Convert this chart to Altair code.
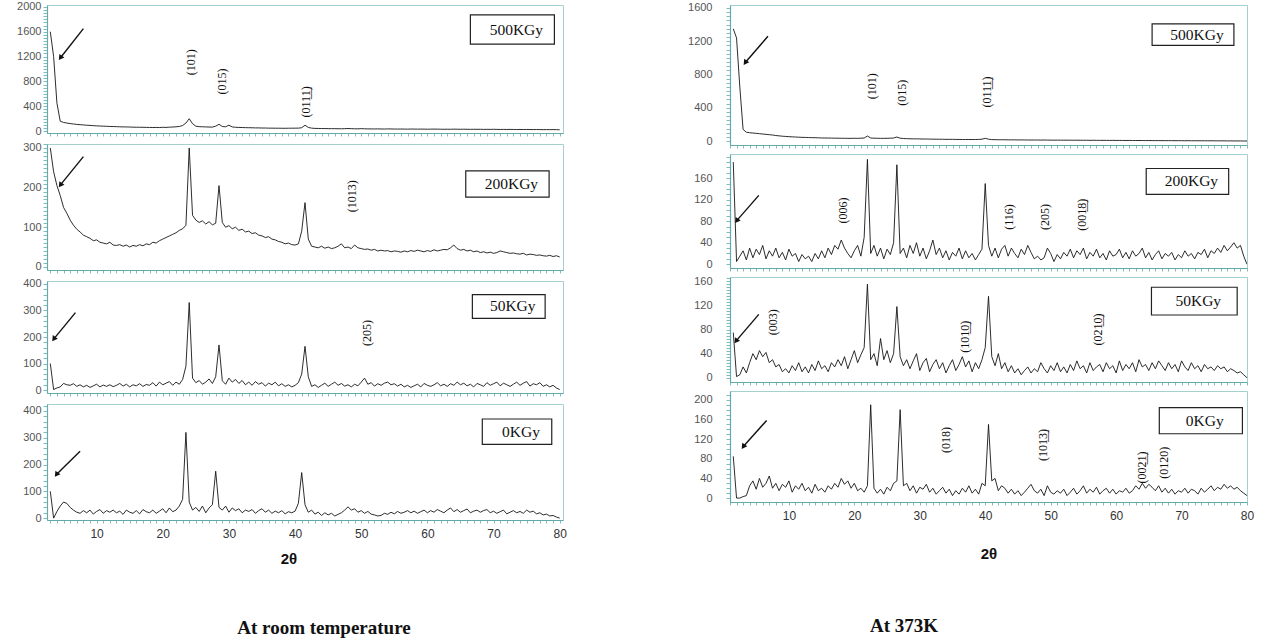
import math
import altair as alt
import pandas as pd

U = "\u0332"  # combining underline used for two-digit Miller indices
TEAL = "#63abab"

# ---------------- sampling grids (2-theta, degrees) ----------------
left_x = [3.0 + 0.5 * i for i in range(155)]
right_x = [1.5 + 0.5 * i for i in range(158)]

# ---------------- intensities ----------------
left_500 = [
    1600, 1200, 450, 160, 140, 130, 122, 115, 108, 104,
    100, 95, 92, 88, 85, 82, 80, 78, 75, 74,
    72, 70, 68, 68, 66, 64, 63, 62, 62, 60,
    60, 58, 60, 58, 62, 60, 64, 66, 70, 75,
    90, 130, 200, 120, 80, 72, 70, 68, 66, 65,
    80, 110, 75, 70, 95, 68, 62, 60, 58, 56,
    55, 54, 52, 52, 50, 50, 48, 48, 47, 47,
    46, 46, 47, 47, 48, 48, 55, 95, 60, 48,
    44, 43, 42, 42, 40, 40, 40, 39, 38, 40,
    42, 40, 38, 37, 40, 38, 36, 36, 35, 36,
    35, 34, 36, 35, 34, 33, 34, 33, 32, 34,
    33, 32, 33, 32, 31, 32, 33, 32, 31, 30,
    31, 30, 32, 31, 30, 31, 30, 29, 30, 29,
    30, 28, 29, 28, 30, 28, 27, 28, 27, 28,
    27, 26, 27, 26, 27, 26, 25, 26, 25, 24,
    25, 24, 25, 24, 22,
]
left_200 = [
    300, 240, 205, 180, 150, 135, 118, 105, 95, 88,
    80, 76, 72, 66, 68, 62, 60, 58, 62, 55,
    54, 56, 52, 55, 50, 54, 52, 56, 53, 58,
    56, 62, 60, 66, 70, 74, 78, 82, 86, 92,
    96, 105, 300, 130, 118, 112, 116, 108, 114, 106,
    110, 205, 112, 100, 104, 96, 100, 92, 95, 88,
    90, 84, 86, 80, 78, 74, 76, 70, 68, 64,
    62, 58, 60, 56, 55, 58, 90, 162, 70, 52,
    50, 48, 52, 47, 50, 46, 48, 52, 58, 48,
    50, 46, 55, 48, 46, 44, 45, 42, 44, 40,
    42, 40, 41, 38, 40, 39, 37, 40, 38, 41,
    39, 42, 40, 38, 41, 39, 43, 40, 42, 44,
    43, 48, 55, 46, 42, 44, 40, 42, 38, 40,
    36, 38, 35, 37, 34, 36, 40, 38, 36, 34,
    35, 33, 32, 34, 30, 32, 31, 29, 30, 28,
    27, 29, 26, 28, 25,
]
left_50 = [
    100, 2, 8, 12, 25, 20, 18, 24, 14, 20,
    12, 18, 10, 16, 22, 12, 19, 14, 20, 13,
    18, 25, 15, 22, 12, 20, 16, 24, 14, 21,
    18, 28, 15, 30, 20, 26, 32, 18, 30, 22,
    40, 90, 330, 45, 28, 36, 22, 30, 42, 25,
    50, 170, 35, 22, 45, 30, 40, 25, 36, 20,
    30, 18, 32, 22, 28, 15, 26, 20, 30, 16,
    24, 14, 20, 12, 18, 28, 60, 165, 50, 14,
    20, 10, 18, 26, 14, 22, 30, 18, 25, 15,
    20, 12, 22, 16, 30, 45, 22, 28, 15, 24,
    18, 26, 30, 20, 24, 15, 22, 12, 18, 10,
    16, 22, 12, 25, 18, 14, 20, 28, 16, 22,
    14, 24, 18, 30, 20, 26, 16, 22, 12, 25,
    20, 14, 28, 18, 24, 30, 16, 26, 20, 14,
    22, 30, 18, 26, 32, 15, 24, 20, 28, 14,
    20, 12, 18, 8, 2,
]
left_0 = [
    100, 0, 25, 45, 60, 55, 40, 30, 22, 18,
    28, 20, 30, 15, 25, 32, 18, 28, 22, 30,
    20, 26, 14, 30, 22, 18, 28, 16, 32, 24,
    20, 30, 18, 26, 35, 20, 38, 24, 30, 45,
    70, 320, 60, 30, 40, 25, 45, 20, 38, 50,
    175, 40, 30, 45, 22, 38, 28, 35, 20, 30,
    25, 32, 18, 28, 35, 22, 30, 18, 26, 20,
    28, 16, 24, 20, 26, 55, 170, 50, 22, 30,
    15, 22, 10, 20, 12, 18, 8, 14, 20, 30,
    42, 30, 35, 22, 28, 18, 25, 15, 12, 8,
    10, 18, 14, 22, 16, 25, 18, 22, 28, 20,
    26, 18, 24, 30, 20, 28, 22, 32, 26, 20,
    30, 38, 24, 32, 22, 28, 34, 20, 26, 30,
    22, 28, 32, 20, 26, 18, 24, 30, 16, 22,
    28, 20, 25, 18, 30, 22, 26, 16, 20, 12,
    15, 8, 10, 4, 0,
]
right_500 = [
    1350, 1240, 650,
    140, 105, 100, 96, 92, 88, 84, 80, 76, 72,
    66, 62, 58, 55, 52, 50, 48, 46, 44, 43,
    42, 40, 40, 38, 37, 36, 36, 35, 34, 34,
    33, 33, 32, 32, 33, 32, 34, 36, 60, 36,
    34, 33, 32, 32, 33, 34, 36, 48, 34, 30,
    28, 27, 26, 26, 25, 24, 24, 23, 22, 22,
    21, 21, 20, 20, 20, 19, 19, 18, 18, 18,
    18, 18, 19, 22, 32, 22, 17, 16, 15, 15,
    15, 14, 14, 14, 13, 13, 13, 12, 12, 12,
    12, 11, 12, 11, 11, 10, 11, 10, 10, 10,
    10, 9, 10, 9, 9, 9, 8, 9, 8, 8,
    8, 8, 7, 8, 7, 7, 7, 6, 7, 6,
    6, 6, 6, 5, 6, 5, 5, 5, 5, 4,
    5, 4, 4, 4, 4, 3, 4, 3, 3, 3,
    3, 3, 2, 3, 2, 2, 2, 2, 1, 2,
    1, 1, 1, 0, 0,
]
right_200 = [
    190, 5, 15,
    25, 8, 30, 12, 28, 18, 35, 10, 25, 15,
    30, 12, 22, 8, 28, 15, 20, 5, 18, 10,
    15, 5, 20, 10, 25, 12, 30, 18, 35, 28,
    45, 30, 20, 12, 25, 35, 15, 50, 195, 20,
    35, 15, 30, 10, 28, 18, 40, 185, 20, 30,
    12, 35, 20, 40, 15, 30, 10, 25, 45, 18,
    30, 12, 25, 8, 22, 15, 30, 10, 25, 12,
    20, 8, 18, 28, 150, 35, 15, 30, 12, 28,
    35, 15, 30, 20, 12, 28, 18, 35, 22, 10,
    15, 8, 12, 30, 20, 5, 18, 10, 22, 15,
    28, 12, 25, 18, 30, 10, 22, 15, 28, 12,
    20, 8, 25, 15, 18, 28, 12, 22, 10, 25,
    15, 20, 30, 12, 22, 8, 18, 25, 10, 20,
    15, 22, 8, 18, 12, 25, 15, 20, 10, 22,
    18, 28, 12, 25, 20, 30, 22, 35, 25, 32,
    40, 30, 35, 15, 0,
]
right_50 = [
    75, 2, 5,
    18, 8, 25, 40, 30, 45, 35, 42, 25, 30,
    18, 22, 10, 15, 8, 20, 12, 25, 10, 18,
    8, 22, 12, 28, 15, 20, 10, 25, 18, 30,
    20, 35, 15, 30, 45, 25, 38, 50, 155, 30,
    40, 20, 65, 30, 45, 25, 40, 118, 35, 20,
    30, 15, 28, 40, 12, 25, 32, 10, 22, 30,
    15, 25, 8, 20, 30, 12, 22, 35, 18, 28,
    10, 25, 15, 30, 50, 135, 35, 20, 40, 15,
    25, 10, 20, 8, 15, 5, 12, 18, 8, 15,
    10, 25, 15, 8, 20, 12, 25, 10, 18, 8,
    22, 12, 28, 15, 20, 8, 25, 12, 18, 22,
    10, 25, 15, 20, 8, 28, 12, 22, 15, 25,
    10, 30, 18, 22, 12, 25, 15, 28, 20, 12,
    25, 15, 22, 10, 28, 18, 12, 25, 15, 20,
    10, 22, 15, 18, 12, 20, 15, 18, 10, 15,
    12, 8, 10, 5, 0,
]
right_0 = [
    85, 0, 0,
    3, 5, 25, 35, 18, 40, 22, 30, 45, 20,
    30, 15, 28, 22, 35, 12, 25, 18, 30, 15,
    22, 10, 28, 15, 20, 12, 25, 18, 30, 22,
    40, 28, 35, 20, 30, 15, 20, 12, 25, 190,
    20, 10, 18, 8, 22, 15, 30, 35, 180, 25,
    30, 15, 25, 10, 22, 18, 28, 12, 20, 8,
    15, 22, 10, 18, 5, 15, 8, 20, 12, 25,
    10, 18, 8, 30, 25, 150, 35, 40, 15, 25,
    20, 10, 18, 8, 15, 5, 12, 20, 28, 15,
    10, 18, 5, 25, 12, 8, 15, 10, 18, 5,
    12, 20, 8, 15, 25, 10, 18, 12, 22, 8,
    15, 20, 10, 18, 8, 15, 12, 20, 10, 15,
    25, 18, 30, 20, 28, 22, 15, 25, 12, 20,
    10, 18, 8, 15, 12, 20, 10, 18, 15, 8,
    20, 12, 18, 25, 15, 22, 18, 28, 20, 25,
    18, 22, 15, 10, 5,
]

# ---------------- annotations ----------------
hkl_left_500 = [(24.3, 1110, "(101)"), (28.9, 800, "(015)"), (41.6, 470, "(01" + "1" + U + "1" + U + ")")]
hkl_left_200 = [(48.6, 178, "(1013)")]
hkl_left_50 = [(50.8, 215, "(205)")]
hkl_left_0 = []
hkl_right_500 = [(22.7, 660, "(101)"), (27.3, 580, "(015)"), (40.3, 590, "(01" + "1" + U + "1" + U + ")")]
hkl_right_200 = [(18.2, 100, "(006)"), (43.7, 88, "(116)"), (49.2, 88, "(205)"),
                 (54.8, 92, "(00" + "1" + U + "8" + U + ")")]
hkl_right_50 = [(7.6, 92, "(003)"), (36.9, 68, "(10" + "1" + U + "0" + U + ")"),
                (57.2, 80, "(02" + "1" + U + "0" + U + ")")]
hkl_right_0 = [(34.0, 118, "(018)"), (48.8, 108, "(10" + "1" + U + "3" + U + ")"),
               (63.9, 62, "(00" + "2" + U + "1" + U + ")"), (67.3, 72, "(0120)")]

# arrows: tail (x1, y1) -> head (x2, y2), in data units
arrow_left = [(8.0, 1650, 4.6, 1190), (8.0, 278, 4.6, 208), (6.8, 292, 3.6, 195), (7.5, 250, 4.0, 165)]
arrow_right = [(6.8, 1260, 3.4, 950), (5.4, 128, 2.1, 82), (5.4, 105, 2.0, 62), (6.6, 158, 3.1, 106)]

# dose boxes: x1, x2, y1, y2, label
box_left = [(66.5, 79.2, 1870, 1400, "500KGy"), (65.8, 78.4, 242, 176, "200KGy"),
            (66.8, 77.8, 360, 270, "50KGy"), (68.3, 78.8, 370, 275, "0KGy")]
box_right = [(65.5, 78.0, 1410, 1150, "500KGy"), (64.6, 77.2, 178, 130, "200KGy"),
             (65.4, 78.5, 150, 104, "50KGy"), (66.6, 79.3, 184, 131, "0KGy")]


def make_panel(xs, ys, xdom, ydom, ymajor, yminor, ylabmax, w, h, hkl, arrow, box,
               label_pad, bottom_texts=None, spacers=None):
    xsc = alt.Scale(domain=xdom, nice=False, zero=False)
    ysc = alt.Scale(domain=ydom, nice=False, zero=False)
    n = min(len(xs), len(ys))
    df = pd.DataFrame({"x": xs[:n], "y": ys[:n]})
    yvals = list(range(0, int(ydom[1]) + 1, yminor))
    yaxis = alt.Axis(values=yvals, format="d",
                     labelExpr=f"(datum.value % {ymajor} === 0 && datum.value <= {ylabmax}) ? datum.label : ''",
                     labelOverlap=False, tickSize=4, tickColor=TEAL, tickWidth=0.8,
                     domainColor=TEAL, domainWidth=1.2, labelColor="#555555",
                     labelFont="Liberation Sans", labelFontSize=11, labelPadding=label_pad,
                     grid=False, title=None)
    xvals = list(range(math.ceil(xdom[0]), int(xdom[1]) + 1))
    common_x = dict(values=xvals, tickSize=3, tickColor=TEAL, tickWidth=0.8,
                    domainColor=TEAL, domainWidth=1.2, grid=False, title=None)
    if bottom_texts is not None:
        xaxis = alt.Axis(labelExpr="datum.value % 10 === 0 ? datum.label : ''",
                         labelOverlap=False, labelFlush=False, labelFont="Liberation Sans",
                         labelFontSize=12, labelColor="#333333", labelPadding=5, **common_x)
    else:
        xaxis = alt.Axis(labels=False, **common_x)

    def X(f):
        return alt.X(f + ":Q", scale=xsc, axis=xaxis)

    def Y(f):
        return alt.Y(f + ":Q", scale=ysc, axis=yaxis)

    layers = []
    layers.append(
        alt.Chart(df).mark_line(color="#151515", strokeWidth=0.9, clip=True).encode(
            x=X("x"), y=Y("y")))
    if hkl:
        hdf = pd.DataFrame(hkl, columns=["x", "y", "t"])
        layers.append(alt.Chart(hdf).mark_text(angle=270, font="Liberation Serif", fontSize=12,
                                               color="#111111", align="center", baseline="middle")
                      .encode(x=X("x"), y=Y("y"), text="t:N"))
    bx1, bx2, by1, by2, blab = box
    bdf = pd.DataFrame({"x1": [bx1], "x2": [bx2], "y1": [by1], "y2": [by2], "t": [blab],
                        "tx": [(bx1 + bx2) / 2 + 0.6], "ty": [(by1 + by2) / 2]})
    layers.append(alt.Chart(bdf).mark_rect(fill="white", stroke="#222222", strokeWidth=1.2)
                  .encode(x=X("x1"), x2="x2", y=Y("y1"), y2="y2"))
    layers.append(alt.Chart(bdf).mark_text(font="Liberation Serif", fontSize=15.5, color="#111111",
                                           align="center", baseline="middle")
                  .encode(x=X("tx"), y=Y("ty"), text="t:N"))
    adf = pd.DataFrame([arrow], columns=["x1", "y1", "x2", "y2"])
    layers.append(alt.Chart(adf).mark_rule(color="#111111", strokeWidth=1.4)
                  .encode(x=X("x1"), y=Y("y1"), x2="x2", y2="y2"))
    layers.append(alt.Chart(adf).mark_point(shape="triangle", filled=True, color="#111111",
                                            size=38, angle=215, opacity=1)
                  .encode(x=X("x2"), y=Y("y2")))
    if bottom_texts:
        for (px, py, txt, font, size) in bottom_texts:
            tdf = pd.DataFrame({"t": [txt]})
            layers.append(alt.Chart(tdf).mark_text(font=font, fontSize=size, fontWeight="bold",
                                                   color="#111111", align="center", baseline="middle")
                          .encode(x=alt.value(px), y=alt.value(py), text="t:N"))
    if spacers:
        for (px, py) in spacers:
            sdf = pd.DataFrame({"s": [0]})
            layers.append(alt.Chart(sdf).mark_point(size=1, filled=True, color="white", opacity=1)
                          .encode(x=alt.value(px), y=alt.value(py)))
    return alt.layer(*layers).properties(width=w, height=h)


LW, RW = 516, 517
LDOM, RDOM = [2.5, 80.5], [1, 80]

left_panels = [
    make_panel(left_x, left_500, LDOM, [-30, 2030], 400, 50, 2000, LW, 128, hkl_left_500,
               arrow_left[0], box_left[0], 2, spacers=[(-40, -5), (LW + 10, -5)]),
    make_panel(left_x, left_200, LDOM, [-8, 310], 100, 10, 300, LW, 126, hkl_left_200,
               arrow_left[1], box_left[1], 2),
    make_panel(left_x, left_50, LDOM, [-11, 411], 100, 20, 400, LW, 112, hkl_left_50,
               arrow_left[2], box_left[2], 2),
    make_panel(left_x, left_0, LDOM, [-7, 426], 100, 20, 400, LW, 116, hkl_left_0,
               arrow_left[3], box_left[3], 2,
               bottom_texts=[(242, 116 + 39, "2θ", "Liberation Sans", 15),
                             (277, 116 + 108, "At room temperature", "Liberation Serif", 19)]),
]
right_panels = [
    make_panel(right_x, right_500, RDOM, [-48, 1636], 400, 50, 1600, RW, 140, hkl_right_500,
               arrow_right[0], box_right[0], 14, spacers=[(-50, -7)]),
    make_panel(right_x, right_200, RDOM, [-7, 205], 40, 10, 160, RW, 114, hkl_right_200,
               arrow_right[1], box_right[1], 14),
    make_panel(right_x, right_50, RDOM, [-7, 167], 40, 5, 160, RW, 105, hkl_right_50,
               arrow_right[2], box_right[2], 14),
    make_panel(right_x, right_0, RDOM, [-8, 218], 40, 10, 200, RW, 111, hkl_right_0,
               arrow_right[3], box_right[3], 14,
               bottom_texts=[(259, 111 + 52, "2θ", "Liberation Sans", 15),
                             (174, 111 + 124, "At 373K", "Liberation Serif", 19)]),
]

left_col = alt.vconcat(*left_panels, spacing=11, bounds="flush")
right_col = alt.vconcat(*right_panels, spacing=9, bounds="flush")

chart = (
    alt.hconcat(left_col, right_col, spacing=105)
    .properties(padding={"left": 6, "top": -3, "right": 0, "bottom": 0})
    .configure_view(stroke="#a6cfcf", strokeWidth=1)
)

chart.save("out.html", embed_options={"renderer": "svg", "actions": False})
